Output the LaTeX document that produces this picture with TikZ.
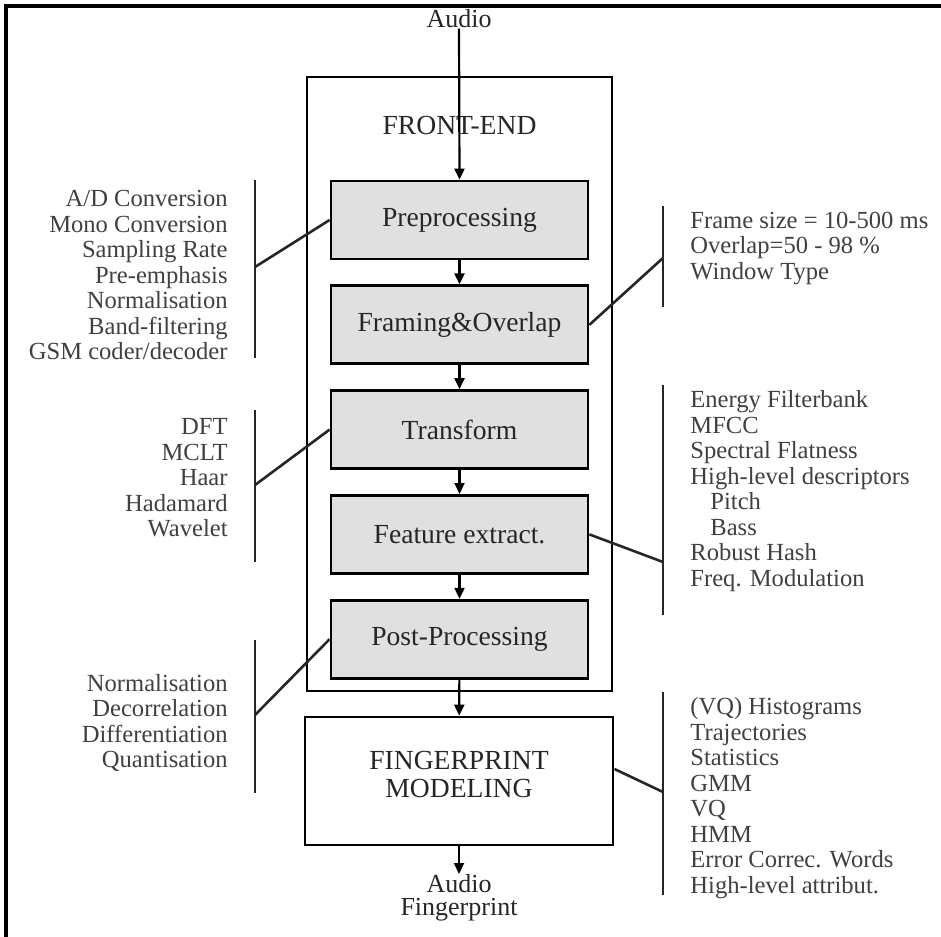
\documentclass[tikz,border=0pt]{standalone}
\usepackage{fontspec}
\setmainfont{Liberation Serif}
\usetikzlibrary{arrows.meta, positioning}

\begin{document}
\begin{tikzpicture}[
      x=0.5pt, y=-0.5pt,
      node distance=12pt,
      flow/.style={-{Triangle[length=5.5pt,width=5pt]}, line width=1.1pt},
      stage/.style={draw, line width=1.4pt, fill=black!12, minimum width=128.5pt, minimum height=39pt, font=\fontsize{13.8}{16}\selectfont, text=black!85},
      block/.style={draw, line width=1.4pt, align=center, font=\fontsize{13.8}{14}\selectfont, text=black!85},
      label/.style={inner sep=0pt, font=\fontsize{13}{11.5}\selectfont, align=center, text=black!85},
      items/.style={inner sep=0pt, font=\fontsize{12.3}{12.75}\selectfont, text=black!75},
      bar/.style={line width=1.3pt, black!85}
    ]
      \useasboundingbox (0,0) rectangle (941,936);
      \draw[line width=1.6pt] (945,6) -- (6,6) -- (6,940);

      \node[block, minimum width=152.5pt, minimum height=307pt] (frontend) at (459.5,384) {};
      \node[block, draw=none] (fetitle) at (459.5,125) {FRONT-END};
      \node[stage] (pre) at (459.5,220) {Preprocessing};
      \node[stage, below=of pre] (frame) {Framing\&Overlap};
      \node[stage, below=of frame] (trans) {Transform};
      \node[stage, below=of trans] (feat) {Feature extract.};
      \node[stage, below=of feat] (post) {Post-Processing};
      \node[block, minimum width=154pt, minimum height=64pt, text depth=7pt] (model) at (459,781) {FINGERPRINT\\MODELING};
      \node[label] (audioin) at (459,19) {Audio};
      \node[label, anchor=north] (audioout) at (459,874) {Audio\\Fingerprint};

      \draw[flow] (audioin.south) -- (pre.north);
      \foreach \a/\b in {pre/frame, frame/trans, trans/feat, feat/post, post/model, model/audioout}
        \draw[flow] (\a) -- (\b);

      \node[items, align=right, anchor=east] (prelist) at (228,275) {A/D Conversion\\Mono Conversion\\Sampling Rate\\Pre-emphasis\\Normalisation\\Band-filtering\\GSM coder/decoder};
      \node[items, align=right, anchor=east] (translist) at (228,478) {DFT\\MCLT\\Haar\\Hadamard\\Wavelet};
      \node[items, align=right, anchor=east] (postlist) at (228,723) {Normalisation\\Decorrelation\\Differentiation\\Quantisation};
      \node[items, align=left, anchor=west] (framelist) at (690,248) {Frame size = 10-500 ms\\Overlap=50 - 98 \%\\Window Type};
      \node[items, align=left, anchor=west] (featlist) at (690,491) {Energy Filterbank\\MFCC\\Spectral Flatness\\High-level descriptors\\\hspace*{10pt}Pitch\\\hspace*{10pt}Bass\\Robust Hash\\Freq. Modulation};
      \node[items, align=left, anchor=west] (modellist) at (690,798) {(VQ) Histograms\\Trajectories\\Statistics\\GMM\\VQ\\HMM\\Error Correc. Words\\High-level attribut.};

      \foreach \jn/\x/\ya/\yb/\yc in {prebar/255/180/358/267, transbar/255/410/562/485, postbar/255/640/793/715,
          framebar/663/206/307/258, featbar/663/385/615/562, modelbar/663/692/895/792} {
        \draw[bar] (\x,\ya) -- (\x,\yb);
        \coordinate (\jn) at (\x,\yc);
      }
      \foreach \a/\b in {pre.west/prebar, trans.west/transbar, post.west/postbar, frame.east/framebar, feat.east/featbar}
        \draw[bar] (\a) -- (\b);
      \draw[bar] ([yshift=6pt]model.east) -- (modelbar);
    \end{tikzpicture}
\end{document}
